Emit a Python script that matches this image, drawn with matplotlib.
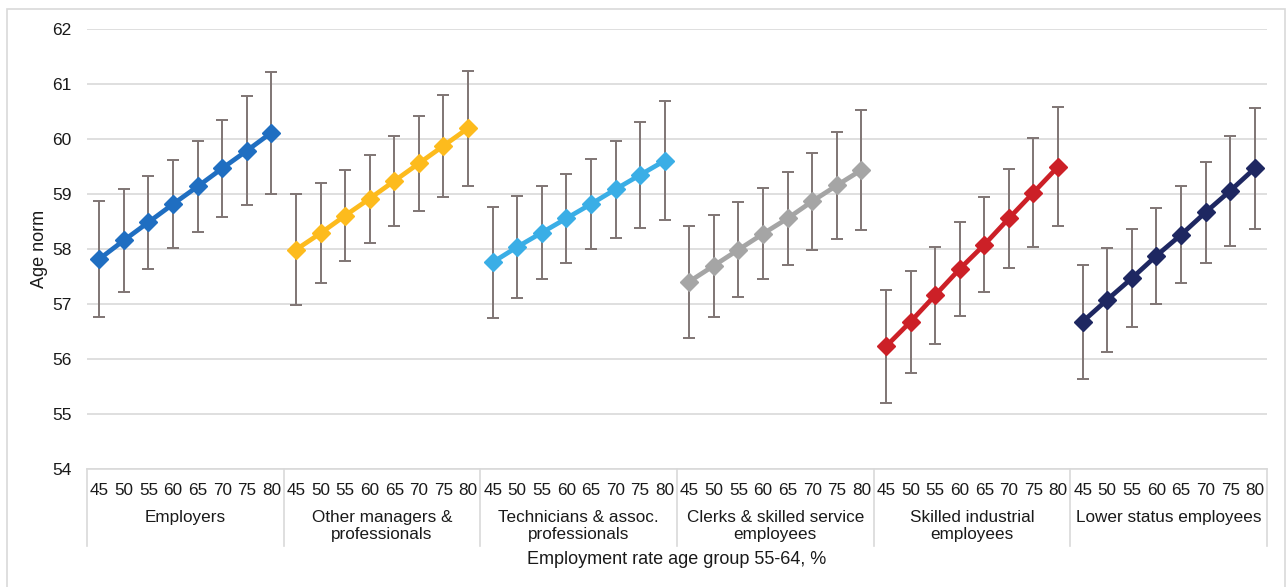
import matplotlib
matplotlib.use("Agg")
import matplotlib.pyplot as plt
from matplotlib.transforms import blended_transform_factory
from matplotlib.patches import Rectangle
import numpy as np

plt.rcParams['font.family'] = ['Liberation Sans', 'DejaVu Sans']

rates = [45, 50, 55, 60, 65, 70, 75, 80]
groups = ["Employers", "Other managers &\nprofessionals", "Technicians & assoc.\nprofessionals",
          "Clerks & skilled service\nemployees", "Skilled industrial\nemployees", "Lower status employees"]
colors = ['#1F6EC1', '#FDBB1D', '#3AAEE6', '#A5A5A5', '#CC2027', '#1E2761']

employers = [57.82, 58.16, 58.49, 58.82, 59.14, 59.47, 59.79, 60.12]
employers_err = [1.05, 0.94, 0.85, 0.80, 0.82, 0.88, 0.99, 1.11]
managers = [57.99, 58.29, 58.61, 58.92, 59.24, 59.56, 59.88, 60.20]
managers_err = [1.01, 0.91, 0.83, 0.80, 0.81, 0.86, 0.93, 1.05]
technicians = [57.76, 58.04, 58.30, 58.56, 58.82, 59.09, 59.35, 59.61]
technicians_err = [1.01, 0.92, 0.84, 0.81, 0.82, 0.88, 0.96, 1.08]
clerks = [57.41, 57.70, 57.99, 58.28, 58.56, 58.87, 59.16, 59.44]
clerks_err = [1.02, 0.93, 0.86, 0.83, 0.84, 0.88, 0.97, 1.09]
skilled = [56.23, 56.68, 57.16, 57.64, 58.08, 58.56, 59.03, 59.50]
skilled_err = [1.03, 0.93, 0.88, 0.85, 0.86, 0.90, 0.99, 1.08]
lower = [56.68, 57.08, 57.47, 57.88, 58.26, 58.67, 59.06, 59.47]
lower_err = [1.04, 0.95, 0.89, 0.87, 0.88, 0.92, 1.00, 1.10]

series = [employers, managers, technicians, clerks, skilled, lower]
errors = [employers_err, managers_err, technicians_err, clerks_err, skilled_err, lower_err]

W, H = 1287, 587
fig = plt.figure(figsize=(W / 100, H / 100), dpi=100)
ax_l, ax_r, ax_t, ax_b = 87, 1267, 29.3, 469
ax = fig.add_axes([ax_l / W, 1 - ax_b / H, (ax_r - ax_l) / W, (ax_b - ax_t) / H])

n = len(rates)
for g, (vals, errs, col) in enumerate(zip(series, errors, colors)):
    x = np.arange(n) + g * n
    ax.errorbar(x, vals, yerr=errs, fmt='none', ecolor='#7F7574', elinewidth=1.4,
                capsize=4, capthick=1.4, zorder=3)
    ax.plot(x, vals, color=col, lw=3.4, marker='D', ms=9.5, zorder=4)

ax.set_xlim(-0.5, len(groups) * n - 0.5)
ax.set_ylim(54, 62)
ax.set_yticks(np.arange(54, 63, 1))
ax.tick_params(axis='y', length=0, labelsize=12.5, pad=11, colors='#1A1A1A')
ax.yaxis.grid(True, color='#D9D9D9', lw=1.2)
ax.set_axisbelow(True)
for s in ['top', 'right', 'left']:
    ax.spines[s].set_visible(False)
ax.spines['bottom'].set_color('#D9D9D9')
ax.spines['bottom'].set_linewidth(1.2)

ax.set_xticks(np.arange(len(groups) * n))
ax.set_xticklabels([str(r) for r in rates] * len(groups))
ax.tick_params(axis='x', length=0, labelsize=12.3, pad=10, colors='#1A1A1A')

trans = blended_transform_factory(ax.transData, ax.transAxes)
axh = ax_b - ax_t
sep_bottom = -(546 - ax_b) / axh
for g in range(len(groups) + 1):
    ax.plot([g * n - 0.5] * 2, [0, sep_bottom], transform=trans, color='#D9D9D9',
            lw=1.2, clip_on=False)
for g, name in enumerate(groups):
    ax.text(g * n + (n - 1) / 2, -(510 - ax_b) / axh, name, transform=trans,
            ha='center', va='top', fontsize=12.3, linespacing=1.2, color='#1A1A1A')

ax.text(0.5, -(560 - ax_b) / axh, "Employment rate age group 55-64, %", transform=ax.transAxes,
        ha='center', va='center', fontsize=13, color='#1A1A1A')
fig.text(40 / W, 1 - 249 / H, "Age norm", rotation=90, ha='center', va='center',
         fontsize=13, color='#1A1A1A')

fig.patches.append(Rectangle((6.5 / W, -0.05), (1285 - 6.5) / W, 1.05 - 9 / H,
                             transform=fig.transFigure, fill=False, edgecolor='#D9D9D9',
                             lw=1.2))

fig.savefig("out.png", dpi=100)
